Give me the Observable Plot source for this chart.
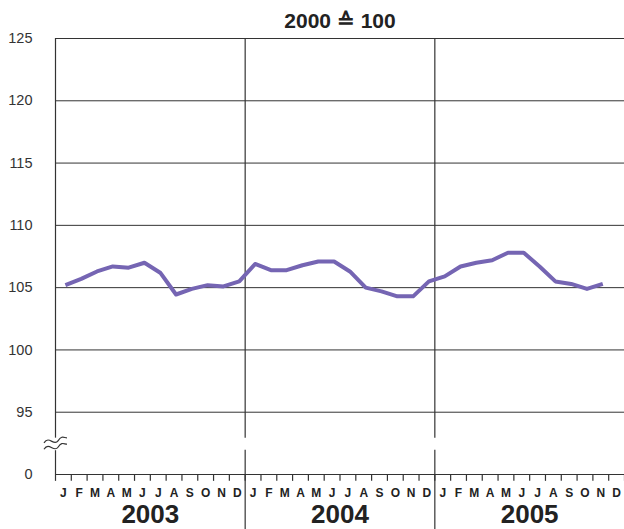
<!DOCTYPE html>
<html>
<head>
<meta charset="utf-8">
<script src="https://cdn.jsdelivr.net/npm/d3@7"></script>
<script src="https://cdn.jsdelivr.net/npm/@observablehq/plot@0.6"></script>
<style>
  html, body { margin: 0; padding: 0; background: #fff; }
  #chart svg { display: block; }
</style>
</head>
<body>
<div id="chart"></div>
<script>
// ---- data ----
const title = "2000 \u2259 100";
const years = ["2003", "2004", "2005"];
const monthLabels = ["J","F","M","A","M","J","J","A","S","O","N","D"];
const values2003 = [105.2, 105.7, 106.3, 106.7, 106.6, 107.0, 106.2, 104.45, 104.9, 105.2, 105.1, 105.5];
const values2004 = [106.9, 106.4, 106.4, 106.8, 107.1, 107.1, 106.3, 105.0, 104.7, 104.3, 104.3, 105.5];
const values2005 = [105.9, 106.7, 107.0, 107.2, 107.8, 107.8, 106.7, 105.5, 105.3, 104.9, 105.3];
const yTicks = [90, 95, 100, 105, 110, 115, 120, 125];
const yTickLabels = ["0", "95", "100", "105", "110", "115", "120", "125"];
// the axis is broken: the "0" baseline is drawn where 90 would be
const yBase = 90;
const breakLow = 91.95, breakHigh = 92.9;

// ---- build tables ----
const series = [values2003, values2004, values2005];
const data = [];
series.forEach((vals, yi) => vals.forEach((v, mi) => data.push({i: yi * 12 + mi, v})));
const months = [];
years.forEach((y, yi) => monthLabels.forEach((m, mi) => months.push({i: yi * 12 + mi, m})));
const yearRows = years.map((y, yi) => ({i: yi * 12 + 6, y}));
const monthBounds = d3.range(0, years.length * 12 + 1);

const font = "'Liberation Sans', Arial, Helvetica, sans-serif";
const grid = "#333";

const chart = Plot.plot({
  width: 624,
  height: 529,
  marginLeft: 55,
  marginRight: 0,
  marginTop: 38,
  marginBottom: 55,
  style: {fontFamily: font, background: "#fff", overflow: "visible"},
  x: {domain: [0, 36], axis: null},
  y: {domain: [yBase, 125]},
  marks: [
    // horizontal grid lines
    Plot.ruleY(yTicks.filter(t => t > yBase), {stroke: grid, strokeWidth: 1, strokeOpacity: 1}),
    // baseline
    Plot.ruleY([yBase], {stroke: grid, strokeWidth: 1.2}),
    // left axis with break
    Plot.ruleX([0], {y1: breakHigh, y2: 125, stroke: grid, strokeWidth: 1.2}),
    Plot.ruleX([0], {y1: yBase, y2: breakLow, stroke: grid, strokeWidth: 1.2}),
    // year dividers with a gap at the break, extending down through labels
    Plot.ruleX([12, 24], {y1: breakHigh, y2: 125, stroke: grid, strokeWidth: 1.2}),
    Plot.ruleX([12, 24], {y1: 85.5, y2: breakLow, stroke: grid, strokeWidth: 1.2}),
    // month ticks
    Plot.ruleX(monthBounds, {y1: yBase, y2: yBase - 0.55, stroke: grid, strokeWidth: 1.2}),
    // month labels
    Plot.text(months, {x: d => d.i + 0.5, y: () => yBase, text: "m", dy: 19, fontSize: 12, fontWeight: "bold", fill: "#222"}),
    // year labels
    Plot.text(yearRows, {x: "i", y: () => yBase, text: "y", dy: 40, fontSize: 26, fontWeight: "bold", fill: "#222"}),
    // y tick labels
    Plot.axisY({ticks: yTicks, tickFormat: d => yTickLabels[yTicks.indexOf(d)], tickSize: 0, tickPadding: 23, fontSize: 14.5, fill: "#333", label: null}),
    // data line
    Plot.line(data, {x: d => d.i + 0.5, y: "v", dx: 2, stroke: "#7565b3", strokeWidth: 4, strokeLinejoin: "round", strokeLinecap: "butt"}),
    // title
    Plot.text([title], {frameAnchor: "top", lineAnchor: "middle", dy: -17, fontSize: 21, fontWeight: "bold", fill: "#222"})
  ]
});

document.getElementById("chart").appendChild(chart);

// axis-break symbol (two wavy strokes) positioned from the chart's scales
const xs = chart.scale("x"), ys = chart.scale("y");
const cx = xs.apply(0);
const yA = ys.apply(breakHigh) + 3, yB = ys.apply(breakLow) - 2.5;
const svg = d3.select(chart);
const wave = (y) => `M${cx - 11},${y + 2} C${cx - 6},${y - 6} ${cx - 1},${y + 6} ${cx + 3},${y} S${cx + 9},${y - 3} ${cx + 12},${y - 3}`;
svg.append("rect").attr("x", cx - 12).attr("y", yA - 3).attr("width", 25).attr("height", yB - yA + 6).attr("fill", "#fff");
[yA, yB].forEach(y => svg.append("path").attr("d", wave(y)).attr("fill", "none").attr("stroke", grid).attr("stroke-width", 1.2));
</script>
</body>
</html>
